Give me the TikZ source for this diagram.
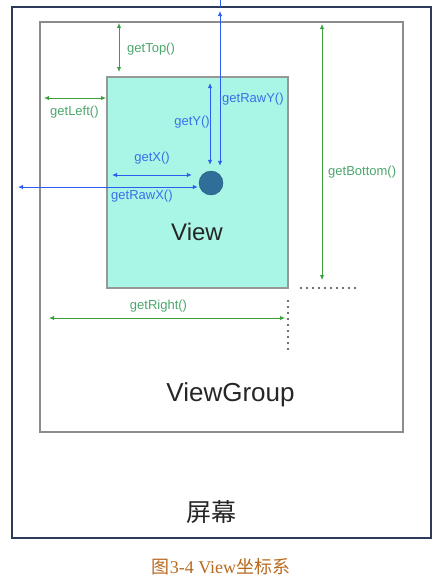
\documentclass[tikz,border=0pt]{standalone}
\usepackage{fontspec}
\setmainfont{Liberation Sans}
\newfontfamily\cjk{Noto Sans CJK SC}
\newfontfamily\capserif{Liberation Serif}
\usetikzlibrary{arrows.meta,positioning,calc}
\definecolor{dimGreen}{HTML}{3C9F3C}
\definecolor{labGreen}{HTML}{4BA66C}
\definecolor{dimBlue}{HTML}{2A5EF0}
\definecolor{labBlue}{HTML}{3B6FE8}
\definecolor{screenColor}{HTML}{2E3A5C}
\definecolor{groupColor}{HTML}{8C8C8C}
\definecolor{viewFill}{HTML}{A9F6E6}
\definecolor{dotColor}{HTML}{2F6E99}
\definecolor{capColor}{HTML}{B8691E}
\tikzset{
	box/.style={draw, rectangle, inner sep=0, outer sep=0},
	gdim/.style={dimGreen, line width=0.9pt, <->},
	bdim/.style={dimBlue, line width=0.9pt, <->},
	glab/.style={text=labGreen, inner sep=0, font=\fontsize{13}{15}\selectfont},
	blab/.style={text=labBlue, inner sep=0, font=\fontsize{13}{15}\selectfont},
	bigtext/.style={inner sep=0, text=black!85, font=\fontsize{25}{28}\selectfont},
	dots/.style={black!75, line width=2.2pt, line cap=round, dash pattern=on 0pt off 6pt}
}

\begin{document}
\begin{tikzpicture}[x=1pt, y=-1pt, >={Latex[length=5pt,width=4.5pt]}]
	\useasboundingbox (0,0) rectangle (444,581);
	
	\node[box, draw=screenColor, line width=1.6pt, minimum width=419pt, minimum height=531pt] (screen) at (221.5,272.5) {};
	\node[box, draw=groupColor, line width=1.3pt, minimum width=363pt, minimum height=410pt] (vg) at (221.5,227) {};
	\node[box, draw=groupColor!90, fill=viewFill, line width=1.3pt, minimum width=181pt, minimum height=211pt] (view) at (197.5,182.5) {};
	\node[circle, fill=dotColor, draw=dotColor!80!black, minimum size=24pt, inner sep=0] (touch) at (211,183) {};
	
	\coordinate (topx) at (119,0);
	\coordinate (lefty) at (0,98);
	\coordinate (righty) at (0,318);
	\coordinate (bottomx) at (322,0);
	\coordinate (yx) at (210,0);
	\coordinate (xy) at (0,175);
	\coordinate (rawxy) at (0,187);
	\coordinate (rawyx) at (220,0);
	
	% green: relative to the parent
	\draw[gdim, shorten <=1pt, shorten >=5pt] (vg.north -| topx) -- (view.north -| topx);
	\draw[gdim, shorten <=4pt, shorten >=1pt] (vg.west |- lefty) -- (view.west |- lefty);
	\draw[gdim, shorten <=9pt, shorten >=3pt] (vg.west |- righty) -- (view.east |- righty);
	\draw[gdim, shorten <=2pt, shorten >=8pt] (vg.north -| bottomx) -- (view.south -| bottomx);
	
	% blue: the touch point
	\draw[bdim, shorten <=6pt, shorten >=6pt] (view.north -| yx) -- (touch.north -| yx);
	\draw[bdim, shorten <=5pt, shorten >=7pt] (view.west |- xy) -- (touch.west |- xy);
	\draw[bdim, shorten <=6pt, shorten >=1pt] (screen.west |- rawxy) -- (touch.west |- rawxy);
	\draw[bdim, shorten <=4pt, shorten >=5pt] (screen.north -| rawyx) -- (touch.north -| rawyx);
	\draw[dimBlue, line width=0.9pt] (screen.north -| rawyx) -- ++(0,-7);
	
	\coordinate (hdotA) at (301,288);
	\coordinate (hdotB) at (360,288);
	\coordinate (vdotA) at (288,301);
	\coordinate (vdotB) at (288,349);
	\draw[dots] (hdotA) -- (hdotB);
	\draw[dots] (vdotA) -- (vdotB);
	
	\node[glab, anchor=west] (ltop) at (127,49) {getTop()};
	\node[glab, anchor=west] (lleft) at (50,112) {getLeft()};
	\node[glab] (lright) at (158.5,306) {getRight()};
	\node[glab, anchor=west] (lbottom) at (328,172) {getBottom()};
	\node[blab, anchor=west] (lrawy) at (222,99) {getRawY()};
	\node[blab, anchor=east] (ly) at (210,122) {getY()};
	\node[blab] (lx) at (152,158) {getX()};
	\node[blab, anchor=west] (lrawx) at (111,196) {getRawX()};
	
	\node[bigtext, font=\fontsize{24}{28}\selectfont, anchor=base] (lview) at (197,240) {View};
	\node[bigtext, font=\fontsize{26}{30}\selectfont, anchor=base] (lgroup) at (230.5,401.5) {ViewGroup};
	\node[bigtext, font=\cjk\fontsize{25}{28}\selectfont] (lscreen) at (211,512) {屏幕};
	
	\node[text=capColor, inner sep=0, font=\fontsize{18}{20}\selectfont] (caption) at (221,567) {{\cjk 图}{\capserif 3-4 View}{\cjk 坐标系}};
\end{tikzpicture}
\end{document}
